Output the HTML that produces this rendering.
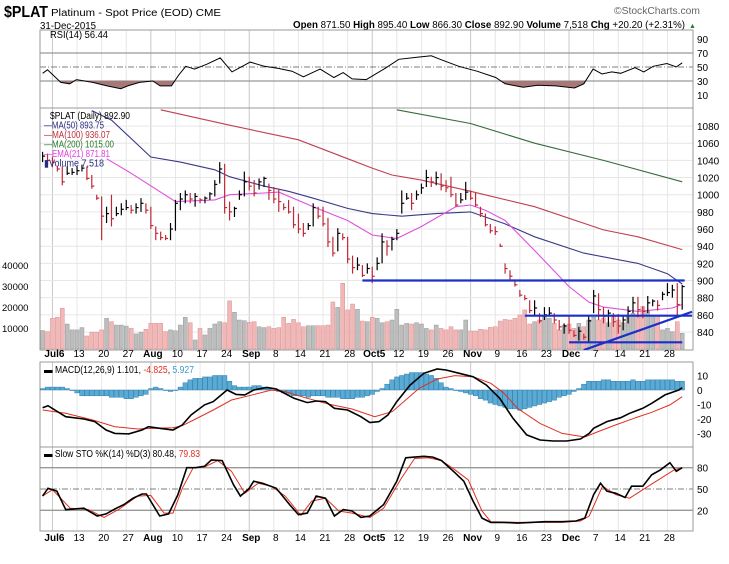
<!DOCTYPE html>
<html><head><meta charset="utf-8"><style>
body{margin:0;background:#fff;}
svg{display:block;font-family:"Liberation Sans",sans-serif;}
</style></head><body>
<svg id="c" width="729" height="564" viewBox="0 0 729 564" xmlns="http://www.w3.org/2000/svg">
<rect x="0" y="0" width="729" height="564" fill="#fff"/>
<defs>
<clipPath id="cpR"><rect x="40" y="30" width="653" height="78"/></clipPath>
<clipPath id="cpR30"><rect x="40" y="81" width="653" height="27"/></clipPath>
<clipPath id="cpP"><rect x="40" y="108" width="653" height="242"/></clipPath>
<clipPath id="cpM"><rect x="40" y="362" width="653" height="85"/></clipPath>
<clipPath id="cpS"><rect x="40" y="447" width="653" height="84"/></clipPath>
</defs>
<text x="4" y="17" font-size="16" font-weight="bold" textLength="44" lengthAdjust="spacingAndGlyphs">$PLAT</text>
<text x="51" y="16" font-size="10" textLength="170" lengthAdjust="spacingAndGlyphs">Platinum - Spot Price (EOD) CME</text>
<text x="40" y="29" font-size="10" textLength="56" lengthAdjust="spacingAndGlyphs">31-Dec-2015</text>
<text x="614" y="14" font-size="10" fill="#666" textLength="86" lengthAdjust="spacingAndGlyphs">©StockCharts.com</text>
<text x="293" y="28" font-size="10" textLength="392" lengthAdjust="spacingAndGlyphs"><tspan font-weight="bold">Open</tspan> 871.50 <tspan font-weight="bold">High</tspan> 895.40 <tspan font-weight="bold">Low</tspan> 866.30 <tspan font-weight="bold">Close</tspan> 892.90 <tspan font-weight="bold">Volume</tspan> 7,518 <tspan font-weight="bold">Chg</tspan> +20.20 (+2.31%)</text>
<text x="689" y="28" font-size="7" fill="#2a7a2a">▲</text>
<g id="grid"></g>
<g id="panels"></g>
<g id="rsi" clip-path="url(#cpR)"></g>
<g id="vol" clip-path="url(#cpP)"></g>
<g id="price" clip-path="url(#cpP)"></g>
<g id="macd" clip-path="url(#cpM)"></g>
<g id="sto" clip-path="url(#cpS)"></g>
<g id="axes"></g>
<g id="legend" font-size="10">
<text x="50" y="38" font-size="10" textLength="58" lengthAdjust="spacingAndGlyphs">RSI(14) 56.44</text>
<text x="50" y="119" textLength="80" lengthAdjust="spacingAndGlyphs">$PLAT (Daily) 892.90</text>
<text x="44" y="128.5" fill="#2b2b80" textLength="60" lengthAdjust="spacingAndGlyphs">—MA(50) 893.75</text>
<text x="44" y="138" fill="#c03040" textLength="66" lengthAdjust="spacingAndGlyphs">—MA(100) 936.07</text>
<text x="44" y="147.5" fill="#2a7a2a" textLength="70" lengthAdjust="spacingAndGlyphs">—MA(200) 1015.00</text>
<text x="44" y="157" fill="#e040e0" textLength="66" lengthAdjust="spacingAndGlyphs">—EMA(21) 871.81</text>
<text x="44" y="166.5" fill="#2b2b80" textLength="60" lengthAdjust="spacingAndGlyphs">▮Volume 7,518</text>
<text x="44" y="373" textLength="150" lengthAdjust="spacingAndGlyphs">▬ MACD(12,26,9) 1.101, <tspan fill="#e03020">-4.825</tspan>, <tspan fill="#3a9ad0">5.927</tspan></text>
<text x="44" y="457" textLength="156" lengthAdjust="spacingAndGlyphs">▬ Slow STO %K(14) %D(3) 80.48, <tspan fill="#e03020">79.83</tspan></text>
</g>
</svg>
<script>
// ---- data (index 0 = Jul 2 2015, weekdays) ----
const weekLabels=["Jul6","13","20","27","Aug","10","17","24","Sep","8","14","21","28","Oct5","12","19","26","Nov","9","16","23","Dec","7","14","21","28"];
const monthWeeks=[0,4,8,13,17,21];
const hi=[1050,1048,1044,1033,1033,1033,1031,1033,1035,1033,1023,1000,998,986,1000,986,990,994,988,990,996,990,986,963,957,953,967,994,1002,1005,1002,1002,996,998,1003,1017,1038,1036,992,986,1005,1027,1021,1017,1019,1021,1013,1009,1007,990,994,986,978,967,967,990,986,986,973,951,961,955,951,929,927,918,920,916,927,955,947,951,960,1005,1002,1002,1005,1013,1029,1021,1027,1025,1017,1021,1002,1002,1015,1005,1002,986,978,966,963,943,920,912,900,889,883,877,877,862,869,869,862,854,850,858,842,846,838,858,889,885,869,866,862,861,858,870,881,881,870,882,878,877,887,897,895,897,895];
const lo=[1038,1036,1032,1027,1011,1023,1023,1023,1027,1017,1007,994,947,967,963,975,976,982,978,978,980,978,960,947,947,947,947,958,982,990,990,986,990,990,994,998,1013,978,970,974,994,998,1005,998,1006,1009,994,990,980,982,978,961,955,951,959,963,972,963,939,928,934,947,920,908,912,904,908,897,912,920,929,935,947,978,994,982,994,1001,1009,1009,1011,1005,1003,997,986,990,994,994,986,974,963,955,953,939,908,900,893,881,877,862,858,850,854,858,850,842,838,838,834,830,831,827,862,854,850,846,846,838,842,850,862,857,856,862,870,865,877,882,880,858,866];
const cl=[1045,1040,1038,1030,1015,1025,1026,1028,1031,1019,1010,996,975,978,972,978,983,985,982,985,990,982,964,955,950,949,960,990,995,1000,995,998,994,996,1001,1012,1030,985,980,984,1000,1015,1010,1002,1015,1019,1005,995,992,985,980,965,960,955,964,985,975,966,945,932,955,950,925,915,918,906,914,905,920,945,940,948,955,990,996,990,1000,1008,1020,1015,1020,1010,1008,1000,988,994,1003,996,988,978,965,958,957,940,914,905,895,883,879,865,868,853,860,862,854,846,847,842,836,841,834,853,882,866,858,862,852,847,854,864,874,866,864,874,876,871,884,886,889,872,893];
const volK=[8.8,8.3,14.6,15.1,19.4,11.9,9.1,9.1,10.2,6.2,8,8,9.1,14.6,13,11.4,11.4,10.9,9.8,7.2,8,9.4,12.2,12.2,12.2,8.3,9.1,8.7,11.4,15.1,12.5,4.3,9.8,6.7,9.8,11.9,13,12.5,22.9,17.5,13.8,13.5,12.7,13,10.6,10.2,10.6,9.8,10.2,15.1,12.2,14.1,12.5,10.6,11.1,11.1,11.1,11.1,11.4,22.4,19.8,31.3,18.6,21.4,18.9,13.3,13,15.1,14.6,12.5,13,13.8,18.9,11.4,12.2,11.9,12.5,11.9,9.8,9.1,11.4,9.8,9.1,10.6,9.1,9.1,13.8,8.6,8.6,9.4,9.1,10.3,10.6,13.3,14.1,13.8,14.6,16.2,18.6,11.9,13,13.8,15.4,14.6,12.2,9.1,11.4,11.9,9.8,12.2,10.6,13.8,15.1,13.8,14.6,12.5,15.4,13.8,12.5,15.7,17,16.2,20.2,18.3,15.7,15.7,9.1,9.8,8.3,13,7.5];
const ma50Idx=[10,14,22,28,35,38,45,50,55,62,67,73,80,87,94,100,110,121,127,130];
const ma50Val=[1098,1087,1044,1038,1029,1021,1010,1004,996,984,978,975,978,980,966,951,932,920,908,896];
const ma100Idx=[24,38,52,62,67,71,77,87,100,114,121,130];
const ma100Val=[1099,1081,1064,1042,1031,1023,1017,1004,986,959,951,936];
const ma200Idx=[72,87,100,114,130];
const ma200Val=[1099,1083,1060,1040,1015];
const emaIdx=[13,18,27,35,38,45,48,55,62,67,72,77,84,87,90,94,100,107,111,114,121,128,130];
const emaVal=[1042,1025,992,994,1000,1002,1003,986,970,953,949,963,986,988,982,970,935,893,875,869,864,868,872];
const hLineStart=[65,98,107];
const hLineEnd=[130.5,132,130];
const hLinePrice=[900,859,828];
const diagIdx=[110,132];
const diagPrice=[819,863.6];
const priceTicks=[840,860,880,900,920,940,960,980,1000,1020,1040,1060,1080];
const volTicks=[10,20,30,40];
const rsiIdx=[0,1,3.7,5.5,6.9,10.2,13.1,15.9,17.3,19.7,22.4,23.9,26.2,27.6,29.1,30.9,33.4,36.1,38.5,42.2,45.1,47.9,50.7,53,56.4,59.2,61.1,62.9,65.8,69.6,72.4,76.1,79,80.8,84.6,88.3,92.1,94,97.7,100.6,104.3,108.1,110,111.9,113.7,115.7,117.5,120.4,122.2,124.1,126.9,128.8,130];
const rsiVal=[41,46,28,26,32,28,23,19,23,28,30,23,23,38,51,47,54,63,43,57,51,48,44,36,47,35,42,33,32,48,61,64,66,61,51,44,35,26,21,24,23,20,26,47,40,43,41,49,43,51,55,50,56];
const rsiTicks=[10,30,50,70,90];
const macdIdx=[0,1.1,4.7,8.4,10.6,12.9,14.7,17.5,20.2,21.5,23.8,26.5,28.4,30.2,32.9,34.7,37.5,39.3,41.1,42.9,45.6,47.5,51.1,53.8,55.6,57.5,59.3,62,64.7,66.5,68.4,70.2,72,74.7,77.5,80.2,82,84.7,87.5,90.2,92.9,95.6,98.4,101.1,103.8,106.5,109.3,111.1,112,114.7,117.5,119.3,122,123.8,126.5,129.3,130];
const macdVal=[-12.2,-10.8,-18.4,-20,-21.8,-27.6,-29.9,-30.3,-27.6,-25.3,-26.4,-27.6,-24.1,-17.2,-10.3,-8,0,-3,-3.4,0,1.8,0.7,-5.7,-8.7,-7.6,-8,-12.6,-13.8,-18.4,-22.5,-21.8,-17.2,-8,3.4,11.5,14.5,13.8,11.5,9.2,3.4,-5.7,-19.5,-31,-34.5,-35.2,-35.2,-33.8,-29.9,-26.4,-21.8,-19.1,-16.1,-12.6,-9.2,-3.4,0,1.6];
const sigIdx=[0,4.7,10.2,14.7,19.3,22.9,26.5,28.4,31.1,34.7,38.4,42,46.5,49.3,53.8,58.4,62.9,67.5,71.1,73.8,76.5,80.2,83.8,87.5,91.1,93.8,96.5,101.1,105.6,110.2,112.9,116.5,120.2,123.8,127.5,130];
const sigVal=[-13.8,-16.1,-20.7,-25.3,-26.9,-26.4,-26,-24.6,-20,-13.8,-6.9,-3.9,0,-1.1,-5.7,-9.9,-13.1,-18.4,-14.9,-6.9,1.1,7.6,9.9,9.2,4.6,-2.3,-12.6,-23,-29.9,-32.4,-28.7,-24.1,-19.5,-15.4,-10.3,-4.6];
const histVal=[1,2,2,2,2,1,0,-2,-4,-4,-4,-4,-4,-4,-5,-5,-5,-6,-6,-5,-4,-3,1,2,1,0,-1,0,2,5,7,8,8,9,9,10,10,10,6,3,2,2,2,3,3,2,1,0,-1,-2,-3,-4,-4,-4,-5,-4,-4,-4,-5,-5,-5,-6,-6,-6,-5,-5,-4,-3,-1,1,4,7,9,10,11,12,12,12,11,10,8,5,2,1,0,-1,-2,-3,-4,-6,-7,-9,-10,-11,-12,-13,-13,-14,-13,-12,-11,-10,-9,-8,-7,-5,-4,-3,-1,1,4,6,6,6,7,7,6,6,6,6,7,6,6,7,7,7,7,7,7,6,6];
const macdTicks=[10,0,-10,-20,-30];
const kIdx=[0,1.1,2.9,4.7,6.5,8.4,11.1,12.9,14.7,16.5,18.4,20.2,21.1,23.8,25.6,27.5,29.3,31.1,32.9,34.3,36.5,38.8,40.2,42,42.9,44.7,47.5,50.2,52,53.8,55.6,57.5,59.3,61.1,62.9,64.7,66.5,69.3,72,73.8,75.6,77.5,79.3,81.1,83.8,85.6,87.5,89.3,91.1,93.8,96.5,99.3,102,105.6,108.4,110.2,112,113.4,114.7,116.5,118.4,119.7,122,123.8,125.6,127.5,128.8,130];
const kVal=[40,51,47,21,22,23,12,15,22,28,37,43,43,12,15,42,80,80,82,91,90,56,40,51,61,58,51,28,14,16,40,37,12,21,19,10,12,28,61,94,95,96,95,90,73,61,33,9,3,3,2,3,4,4,5,9,42,58,47,44,38,54,54,70,77,87,75,80];
const dIdx=[0,2,5.6,9.3,12.5,15.6,19.3,22,24.7,26.5,28.4,30.6,32.9,35.6,38.4,41.1,43.8,46.5,49.3,52.5,54.7,57.5,60.2,62.9,66.5,69.3,72.9,75.6,78.4,81.1,83.8,86.5,89.3,91.1,96.5,105.6,109.3,111.1,113.8,116.5,119.3,122,125.6,128.4,130];
const dVal=[40,49,23,21,10,22,40,41,16,16,51,80,81,90,75,44,58,54,40,13,33,37,19,16,10,23,65,93,94,90,77,63,19,4,3,3,5,12,54,42,37,49,65,77,80];
const stoTicks=[20,50,80];

// ---- scales ----
const NS="http://www.w3.org/2000/svg";
const L=40,R=693;
function xi(i){return 42.6+4.92*i;}
function py(p){return 332-(p-840)*0.858;}
function vy(k){return 349-k*2.1;}
function ry(v){return 67-(v-50)*0.7;}
function my(v){return 390-v*1.45;}
function sy(v){return 489-(v-50)*0.71;}
function el(tag,attrs,parent){const e=document.createElementNS(NS,tag);for(const k in attrs)e.setAttribute(k,attrs[k]);parent.appendChild(e);return e;}
function pts(idx,val,fy){return idx.map((d,j)=>xi(d).toFixed(1)+","+fy(val[j]).toFixed(1)).join(" ");}
const G=id=>document.getElementById(id);

// grid: weekly verticals
const grid=G('grid');
const panelsY=[[30,108],[108,350],[362,447],[447,531]];
weekLabels.forEach((lab,w)=>{
  const x=xi(2+5*w);
  const isM=monthWeeks.includes(w);
  panelsY.forEach(([a,b])=>{
    const ln=el('line',{x1:x,x2:x,y1:a,y2:b,stroke:isM?'#c8c8c8':'#e6e6e6','stroke-width':1},grid);
    
    
  });
  [357,541].forEach(y=>{
    const t=el('text',{x:x+2,y:y,'font-size':10,'text-anchor':'middle','font-weight':isM?'bold':'normal'},G('axes'));
    t.textContent=lab;
    
    
  });
});
// price horizontal grid + labels
priceTicks.forEach(p=>{
  const ln=el('line',{x1:L,x2:R,y1:py(p),y2:py(p),stroke:'#e6e6e6'},grid);
  
  
  const t=el('text',{x:697,y:py(p)+4,'font-size':10},G('axes'));
  t.textContent=p;
  
  
});
volTicks.forEach(k=>{
  const t=el('text',{x:2,y:vy(k)+4,'font-size':9.5},G('axes'));
  t.textContent=(k*1000);
  
  
});
// reference lines
function refLine(y,dash,g,name){
  const ln=el('line',{x1:L,x2:R,y1:y,y2:y,stroke:dash?'#555':'#999','stroke-width':dash?0.8:1.3,'stroke-dasharray':dash?'6,2,1,2':'none'},g);
  
  
}
rsiTicks.forEach(v=>{
  const t=el('text',{x:697,y:ry(v)+4,'font-size':10},G('axes'));
  t.textContent=v;
  
  
});
refLine(ry(70),false,grid,'rsi-70-line');refLine(ry(30),false,grid,'rsi-30-line');refLine(ry(50),true,grid,'rsi-50-line');
macdTicks.forEach(v=>{
  const t=el('text',{x:697,y:my(v)+4,'font-size':10},G('axes'));
  t.textContent=v;
  
  
});
stoTicks.forEach(v=>{
  const t=el('text',{x:697,y:sy(v)+4,'font-size':10},G('axes'));
  t.textContent=v;
  
  
});
refLine(sy(80),false,grid,'sto-80-line');refLine(sy(20),false,grid,'sto-20-line');refLine(sy(50),true,grid,'sto-50-line');

// panel frames
panelsY.forEach(([a,b])=>{
  const r=el('rect',{x:L,y:a,width:R-L,height:b-a,fill:'none',stroke:'#999','stroke-width':1},G('panels'));
  
  
});

// RSI
const rsiG=G('rsi');
const rp=pts(rsiIdx,rsiVal,ry);
const shade=el('polygon',{points:xi(rsiIdx[0])+","+ry(30)+" "+rp+" "+xi(rsiIdx[rsiIdx.length-1])+","+ry(30),fill:'#a87878',stroke:'none','clip-path':'url(#cpR30)'},rsiG);


const rl=el('polyline',{points:rp,fill:'none',stroke:'#000','stroke-width':1},rsiG);



// volume
const volG=G('vol');
volK.forEach((k,i)=>{
  const down=i>0&&cl[i]<cl[i-1];
  const b=el('rect',{x:xi(i)-2,y:vy(k),width:4,height:349-vy(k),fill:down?'#f2b8b8':'#bdbdbd',stroke:down?'#d89090':'#9a9a9a','stroke-width':0.5},volG);
  
  
});

// price
const prG=G('price');
function maLine(idx,val,color,name){
  const l=el('polyline',{points:pts(idx,val,py),fill:'none',stroke:color,'stroke-width':1.1},prG);
  
  
}
maLine(ma200Idx,ma200Val,'#3a6a3a','ma200-line');
maLine(ma100Idx,ma100Val,'#c04050','ma100-line');
maLine(ma50Idx,ma50Val,'#3a3a88','ma50-line');
maLine(emaIdx,emaVal,'#e050e0','ema21-line');
cl.forEach((c,i)=>{
  const down=i>0&&c<cl[i-1];
  const col=down?'#c02838':'#000';
  const v=el('line',{x1:xi(i),x2:xi(i),y1:py(hi[i]),y2:py(lo[i]),stroke:col,'stroke-width':1.2},prG);
  
  
  const t=el('line',{x1:xi(i),x2:xi(i)+2.5,y1:py(c),y2:py(c),stroke:col,'stroke-width':1.2},prG);
  
  
});
hLinePrice.forEach((p,j)=>{
  const l=el('line',{x1:xi(hLineStart[j]),x2:xi(hLineEnd[j]),y1:py(p),y2:py(p),stroke:'#1a30c8','stroke-width':2.2},prG);
  
  
});
const dl=el('line',{x1:xi(diagIdx[0]),x2:xi(diagIdx[1]),y1:py(diagPrice[0]),y2:py(diagPrice[1]),stroke:'#1a30c8','stroke-width':2.2},prG);



// MACD
const mG=G('macd');
histVal.forEach((h,i)=>{
  const y0=my(0),y1=my(h);
  const b=el('rect',{x:xi(i)-2.3,y:Math.min(y0,y1),width:4.6,height:Math.max(0.5,Math.abs(y1-y0)),fill:'#5aaad4',stroke:'#2f7fae','stroke-width':0.5},mG);
  
  
});
const sl=el('polyline',{points:pts(sigIdx,sigVal,my),fill:'none',stroke:'#e03020','stroke-width':1},mG);


const ml=el('polyline',{points:pts(macdIdx,macdVal,my),fill:'none',stroke:'#000','stroke-width':1.6},mG);



// STO
const sG=G('sto');
const dLine=el('polyline',{points:pts(dIdx,dVal,sy),fill:'none',stroke:'#e03020','stroke-width':1},sG);


const kLine=el('polyline',{points:pts(kIdx,kVal,sy),fill:'none',stroke:'#000','stroke-width':1.6},sG);


</script>
</body></html>
